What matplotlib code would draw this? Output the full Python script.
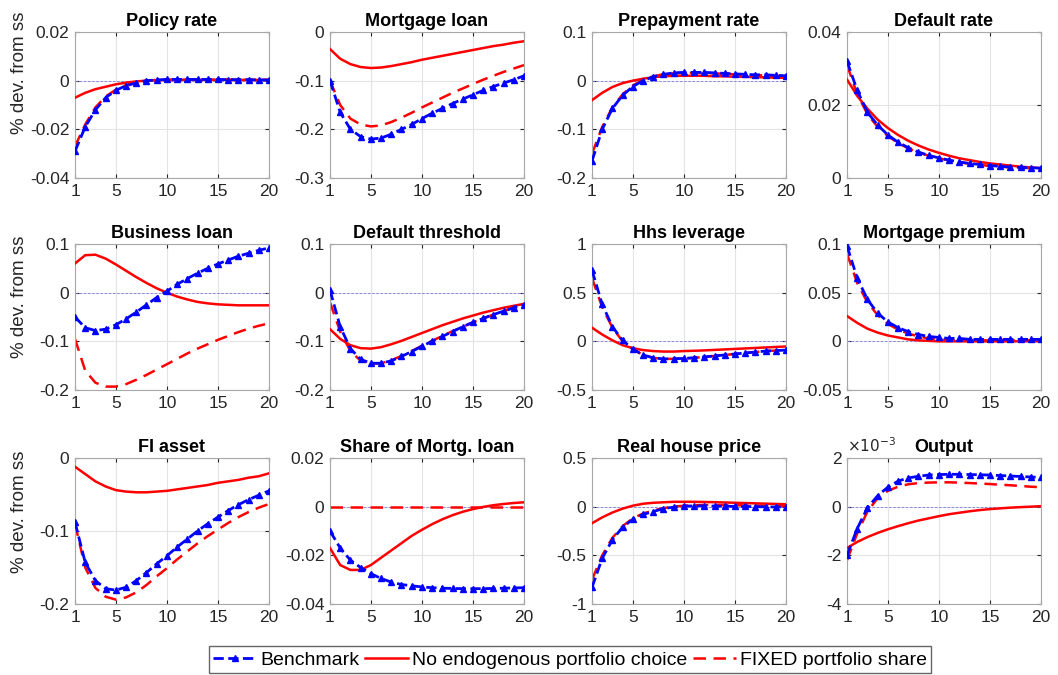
import numpy as np
import matplotlib
matplotlib.use("Agg")
import matplotlib.pyplot as plt
from matplotlib.lines import Line2D

periods = np.arange(1, 21)

titles = [
    "Policy rate", "Mortgage loan", "Prepayment rate", "Default rate",
    "Business loan", "Default threshold", "Hhs leverage", "Mortgage premium",
    "FI asset", "Share of Mortg. loan", "Real house price", "Output",
]
ylims = [
    (-0.04, 0.02), (-0.3, 0.0), (-0.2, 0.1), (0.0, 0.04),
    (-0.2, 0.1), (-0.2, 0.1), (-0.5, 1.0), (-0.05, 0.1),
    (-0.2, 0.0), (-0.04, 0.02), (-1.0, 0.5), (-4e-3, 2e-3),
]
yticks = [
    [-0.04, -0.02, 0, 0.02], [-0.3, -0.2, -0.1, 0], [-0.2, -0.1, 0, 0.1], [0, 0.02, 0.04],
    [-0.2, -0.1, 0, 0.1], [-0.2, -0.1, 0, 0.1], [-0.5, 0, 0.5, 1], [-0.05, 0, 0.05, 0.1],
    [-0.2, -0.1, 0], [-0.04, -0.02, 0, 0.02], [-1, -0.5, 0, 0.5], [-4e-3, -2e-3, 0, 2e-3],
]
ytick_labels = [
    ["-0.04", "-0.02", "0", "0.02"], ["-0.3", "-0.2", "-0.1", "0"], ["-0.2", "-0.1", "0", "0.1"], ["0", "0.02", "0.04"],
    ["-0.2", "-0.1", "0", "0.1"], ["-0.2", "-0.1", "0", "0.1"], ["-0.5", "0", "0.5", "1"], ["-0.05", "0", "0.05", "0.1"],
    ["-0.2", "-0.1", "0"], ["-0.04", "-0.02", "0", "0.02"], ["-1", "-0.5", "0", "0.5"], ["-4", "-2", "0", "2"],
]

# Benchmark
bench = [
    [-0.029, -0.019, -0.012, -0.007, -0.004, -0.002, -0.001, 0.0, 0.0003, 0.0005,
     0.0005, 0.0005, 0.0005, 0.0005, 0.0005, 0.0004, 0.0004, 0.0004, 0.0003, 0.0003],
    [-0.10, -0.165, -0.20, -0.215, -0.22, -0.218, -0.21, -0.20, -0.19, -0.178,
     -0.167, -0.157, -0.147, -0.138, -0.129, -0.12, -0.112, -0.105, -0.098, -0.09],
    [-0.165, -0.10, -0.057, -0.03, -0.012, 0.0, 0.008, 0.013, 0.016, 0.017,
     0.017, 0.017, 0.016, 0.015, 0.014, 0.013, 0.012, 0.012, 0.011, 0.01],
    [0.032, 0.024, 0.018, 0.0145, 0.0118, 0.0098, 0.0083, 0.0071, 0.0062, 0.0055,
     0.0049, 0.0044, 0.004, 0.0037, 0.0034, 0.0032, 0.003, 0.0029, 0.0028, 0.0027],
    [-0.05, -0.072, -0.078, -0.075, -0.066, -0.054, -0.04, -0.025, -0.01, 0.003,
     0.017, 0.029, 0.04, 0.05, 0.059, 0.067, 0.075, 0.081, 0.087, 0.092],
    [0.005, -0.07, -0.115, -0.137, -0.145, -0.145, -0.14, -0.131, -0.121, -0.11,
     -0.10, -0.09, -0.08, -0.07, -0.061, -0.053, -0.045, -0.038, -0.031, -0.025],
    [0.73, 0.38, 0.15, 0.01, -0.08, -0.14, -0.17, -0.18, -0.18, -0.175,
     -0.17, -0.16, -0.15, -0.14, -0.13, -0.12, -0.11, -0.10, -0.095, -0.09],
    [0.098, 0.065, 0.043, 0.029, 0.02, 0.014, 0.01, 0.007, 0.005, 0.004,
     0.003, 0.003, 0.002, 0.002, 0.002, 0.002, 0.002, 0.002, 0.002, 0.002],
    [-0.088, -0.143, -0.168, -0.179, -0.181, -0.177, -0.168, -0.157, -0.145, -0.134,
     -0.122, -0.111, -0.10, -0.09, -0.081, -0.072, -0.064, -0.057, -0.051, -0.045],
    [-0.01, -0.017, -0.022, -0.025, -0.0275, -0.0295, -0.031, -0.032, -0.0325, -0.033,
     -0.0333, -0.0335, -0.0336, -0.0337, -0.0337, -0.0337, -0.0336, -0.0335, -0.0334, -0.0333],
    [-0.83, -0.53, -0.34, -0.21, -0.13, -0.08, -0.05, -0.02, -0.005, 0.005,
     0.008, 0.008, 0.006, 0.005, 0.003, 0.002, 0.0, -0.002, -0.003, -0.004],
    [-2.0e-3, -0.9e-3, -0.05e-3, 0.45e-3, 0.8e-3, 1.05e-3, 1.18e-3, 1.25e-3, 1.3e-3, 1.32e-3,
     1.33e-3, 1.33e-3, 1.32e-3, 1.31e-3, 1.3e-3, 1.28e-3, 1.26e-3, 1.24e-3, 1.22e-3, 1.2e-3],
]

# No endogenous portfolio choice
no_endo = [
    [-0.007, -0.005, -0.0035, -0.0025, -0.0015, -0.0008, -0.0003, 0.0, 0.0002, 0.0003,
     0.0003, 0.0003, 0.0003, 0.0003, 0.0003, 0.0003, 0.0003, 0.0003, 0.0003, 0.0003],
    [-0.035, -0.055, -0.066, -0.072, -0.074, -0.073, -0.07, -0.066, -0.062, -0.057,
     -0.053, -0.049, -0.045, -0.041, -0.037, -0.033, -0.029, -0.026, -0.022, -0.019],
    [-0.04, -0.025, -0.013, -0.005, 0.0, 0.004, 0.007, 0.009, 0.01, 0.01,
     0.01, 0.01, 0.009, 0.009, 0.008, 0.008, 0.007, 0.007, 0.006, 0.006],
    [0.027, 0.0225, 0.019, 0.016, 0.0137, 0.0118, 0.0102, 0.0089, 0.0078, 0.0069,
     0.0061, 0.0054, 0.0049, 0.0044, 0.004, 0.0037, 0.0034, 0.0031, 0.0029, 0.0027],
    [0.06, 0.077, 0.078, 0.07, 0.058, 0.045, 0.032, 0.02, 0.009, 0.0,
     -0.008, -0.014, -0.019, -0.022, -0.024, -0.025, -0.026, -0.026, -0.026, -0.026],
    [-0.075, -0.095, -0.108, -0.114, -0.115, -0.112, -0.106, -0.099, -0.091, -0.083,
     -0.075, -0.067, -0.06, -0.053, -0.047, -0.041, -0.036, -0.031, -0.027, -0.023],
    [0.14, 0.07, 0.01, -0.04, -0.07, -0.09, -0.10, -0.105, -0.105, -0.10,
     -0.097, -0.093, -0.088, -0.083, -0.078, -0.073, -0.068, -0.063, -0.058, -0.053],
    [0.026, 0.019, 0.013, 0.009, 0.006, 0.004, 0.002, 0.001, 0.0005, 0.0,
     0.0, 0.0, 0.0, 0.0, 0.0, 0.0, 0.0, 0.0, 0.0, 0.0],
    [-0.012, -0.022, -0.032, -0.039, -0.044, -0.046, -0.047, -0.047, -0.046, -0.045,
     -0.043, -0.041, -0.039, -0.037, -0.034, -0.032, -0.03, -0.027, -0.025, -0.021],
    [-0.017, -0.024, -0.026, -0.026, -0.024, -0.021, -0.018, -0.015, -0.012, -0.0095,
     -0.0072, -0.0052, -0.0035, -0.0021, -0.001, -0.0001, 0.0006, 0.0011, 0.0015, 0.0018],
    [-0.17, -0.11, -0.06, -0.02, 0.01, 0.03, 0.04, 0.045, 0.05, 0.05,
     0.05, 0.048, 0.046, 0.043, 0.04, 0.037, 0.034, 0.031, 0.028, 0.025],
    [-1.7e-3, -1.45e-3, -1.25e-3, -1.08e-3, -0.93e-3, -0.8e-3, -0.68e-3, -0.57e-3, -0.48e-3, -0.39e-3,
     -0.31e-3, -0.25e-3, -0.19e-3, -0.14e-3, -0.1e-3, -0.07e-3, -0.04e-3, -0.02e-3, 0.0, 0.02e-3],
]

# FIXED portfolio share
fixed = [
    [-0.027, -0.018, -0.011, -0.0065, -0.0037, -0.0018, -0.0007, 0.0, 0.0003, 0.0004,
     0.0004, 0.0004, 0.0004, 0.0004, 0.0004, 0.0004, 0.0003, 0.0003, 0.0003, 0.0003],
    [-0.10, -0.15, -0.178, -0.19, -0.194, -0.192, -0.185, -0.176, -0.166, -0.155,
     -0.145, -0.135, -0.125, -0.116, -0.107, -0.098, -0.09, -0.082, -0.075, -0.068],
    [-0.15, -0.095, -0.055, -0.028, -0.01, 0.002, 0.009, 0.013, 0.015, 0.016,
     0.016, 0.016, 0.015, 0.014, 0.013, 0.012, 0.011, 0.011, 0.01, 0.009],
    [0.031, 0.023, 0.0175, 0.014, 0.0115, 0.0096, 0.0081, 0.007, 0.0061, 0.0054,
     0.0048, 0.0043, 0.0039, 0.0036, 0.0033, 0.0031, 0.0029, 0.0028, 0.0027, 0.0026],
    [-0.095, -0.16, -0.185, -0.193, -0.193, -0.188, -0.179, -0.169, -0.158, -0.147,
     -0.136, -0.125, -0.115, -0.106, -0.097, -0.089, -0.081, -0.074, -0.068, -0.063],
    [-0.02, -0.08, -0.12, -0.14, -0.146, -0.145, -0.139, -0.13, -0.12, -0.109,
     -0.099, -0.089, -0.079, -0.07, -0.061, -0.053, -0.045, -0.038, -0.031, -0.025],
    [0.65, 0.35, 0.14, 0.0, -0.08, -0.14, -0.17, -0.18, -0.18, -0.175,
     -0.17, -0.16, -0.15, -0.14, -0.13, -0.12, -0.11, -0.10, -0.095, -0.09],
    [0.09, 0.06, 0.04, 0.027, 0.018, 0.012, 0.008, 0.005, 0.003, 0.002,
     0.001, 0.001, 0.001, 0.001, 0.001, 0.001, 0.001, 0.001, 0.001, 0.001],
    [-0.09, -0.15, -0.178, -0.19, -0.194, -0.191, -0.184, -0.174, -0.162, -0.151,
     -0.139, -0.128, -0.117, -0.107, -0.098, -0.089, -0.081, -0.074, -0.068, -0.063],
    [0.0] * 20,
    [-0.75, -0.50, -0.32, -0.20, -0.12, -0.07, -0.04, -0.015, 0.0, 0.01,
     0.015, 0.017, 0.017, 0.016, 0.015, 0.013, 0.011, 0.009, 0.008, 0.006],
    [-2.2e-3, -1.1e-3, -0.2e-3, 0.35e-3, 0.65e-3, 0.82e-3, 0.92e-3, 0.97e-3, 0.99e-3, 1.0e-3,
     1.0e-3, 0.99e-3, 0.97e-3, 0.95e-3, 0.93e-3, 0.9e-3, 0.88e-3, 0.85e-3, 0.82e-3, 0.8e-3],
]

W, H = 1058, 675
col_left = [75, 330, 592, 847]
row_top = [32, 244, 458]
ax_w, ax_h = 194, 146
# ylabel sits a bit above the axes centre in the original
ylabel_y = [0.72, 0.64, 0.63]

plt.rcParams["font.family"] = "Liberation Sans"
fig = plt.figure(figsize=(W / 100, H / 100), dpi=100)

bench_style = dict(color="b", ls="--", lw=2, marker="^", ms=5, mfc="b", mec="b")
noendo_style = dict(color="r", ls="-", lw=1.8)
fixed_style = dict(color="r", ls="--", lw=1.8, dashes=(5, 3))

for i, title in enumerate(titles):
    r, c = divmod(i, 4)
    ax = fig.add_axes([col_left[c] / W, 1 - (row_top[r] + ax_h) / H, ax_w / W, ax_h / H])
    ax.axhline(0, color="#7a7ad8", lw=0.6, ls=(0, (3, 2)), zorder=1)
    ax.plot(periods, fixed[i], **fixed_style, zorder=2)
    ax.plot(periods, no_endo[i], **noendo_style, zorder=3)
    ax.plot(periods, bench[i], **bench_style, zorder=4)
    ax.set_xlim(1, 20)
    ax.set_ylim(*ylims[i])
    ax.set_xticks([1, 5, 10, 15, 20])
    ax.set_yticks(yticks[i])
    ax.set_yticklabels(ytick_labels[i])
    ax.grid(True, color="#e3e3e3", lw=0.8)
    ax.set_axisbelow(True)
    ax.tick_params(direction="in", length=3, labelsize=12.5, colors="#262626",
                   top=True, right=True, pad=4)
    for s in ax.spines.values():
        s.set_color("#a8a8a8")
        s.set_linewidth(0.8)
    ax.set_title(title, fontsize=13, fontweight="bold", pad=4)
    if c == 0:
        ax.set_ylabel("% dev. from ss", fontsize=13.5, color="#262626")
        ax.yaxis.set_label_coords(-0.24, ylabel_y[r])
    if title == "Output":
        ax.text(0.0, 1.02, r"$\times10^{-3}$", transform=ax.transAxes,
                fontsize=11, va="bottom", ha="left", color="#262626")

handles = [
    Line2D([], [], **bench_style),
    Line2D([], [], **noendo_style),
    Line2D([], [], **fixed_style),
]
labels = ["Benchmark", "No endogenous portfolio choice", "FIXED portfolio share"]
fig.legend(handles, labels, loc="lower center", bbox_to_anchor=(570 / W, -0.012), ncol=3,
           fontsize=14, frameon=True, fancybox=False, edgecolor="#404040",
           handlelength=2.2, handletextpad=0.2, columnspacing=0.3, borderpad=0.25)

fig.savefig("out.png", dpi=100)
